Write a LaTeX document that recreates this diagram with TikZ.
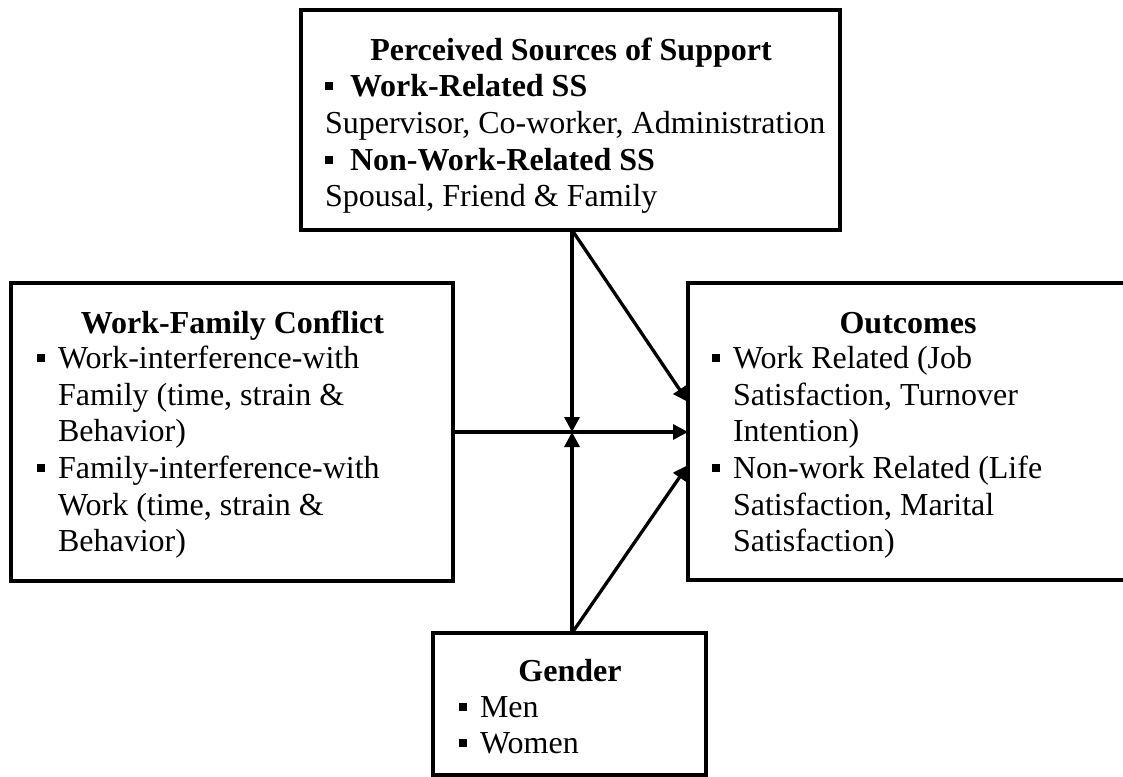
\documentclass[tikz,border=0pt]{standalone}
\usepackage{fontspec}
\setmainfont{Liberation Serif}
\usetikzlibrary{arrows.meta}
\newcommand\bul[1][21pt]{\makebox[#1][l]{\raisebox{6.5pt}{\rule{8pt}{8pt}}}}
\newcommand\ind{\hspace*{21pt}}
\begin{document}
\begin{tikzpicture}[x=1pt,y=-1pt,
  box/.style={draw, line width=4pt, inner sep=0pt, outer sep=0pt, anchor=north west, fill=white},
  txt/.style={inner sep=0pt, outer sep=0pt, font=\fontsize{32}{36.7}\selectfont},
  arr/.style={line width=3.3pt, -{Triangle[length=15pt,width=15pt]}}]
\useasboundingbox (0,0) rectangle (1123,776);
\clip (0,0) rectangle (1123,776);
\fill[white] (0,0) rectangle (1123,776);
% boxes
\node[box, minimum width=539pt, minimum height=220pt] (pss) at (301,10) {};
\node[box, minimum width=442pt, minimum height=298pt] (wfc) at (11,283) {};
\node[box, minimum width=440pt, minimum height=297pt] (out) at (688,283) {};
\node[box, minimum width=273pt, minimum height=142pt] (gen) at (433,633) {};
% texts
\node[txt, anchor=base] (pssT) at (571,60) {\textbf{Perceived Sources of Support}};
\node[txt, anchor=base west] (pssL) at (325,96.7) {\begin{tabular}[t]{@{}l@{}}
\bul[25pt]\textbf{Work-Related SS}\\
Supervisor, Co-worker, Administration\\
\bul[25pt]\textbf{Non-Work-Related SS}\\
Spousal, Friend \& Family\end{tabular}};
\node[txt, anchor=base] (wfcT) at (232.5,333) {\textbf{Work-Family Conflict}};
\node[txt, anchor=base west] (wfcL) at (37,368.3) {\begin{tabular}[t]{@{}l@{}}
\bul Work-interference-with\\
\ind Family (time, strain \&\\
\ind Behavior)\\
\bul Family-interference-with\\
\ind Work (time, strain \&\\
\ind Behavior)\end{tabular}};
\node[txt, anchor=base] (outT) at (908,333) {\textbf{Outcomes}};
\node[txt, anchor=base west] (outL) at (712,368.3) {\begin{tabular}[t]{@{}l@{}}
\bul Work Related (Job\\
\ind Satisfaction, Turnover\\
\ind Intention)\\
\bul Non-work Related (Life\\
\ind Satisfaction, Marital\\
\ind Satisfaction)\end{tabular}};
\node[txt, anchor=base] (genT) at (570,681) {\textbf{Gender}};
\node[txt, anchor=base west] (genL) at (459,717) {\begin{tabular}[t]{@{}l@{}}
\bul Men\\
\bul Women\end{tabular}};
% connectors
\coordinate (junc) at (572,432);
\coordinate (tipA) at (688,402);
\coordinate (tipB) at (688,465);
\draw[arr] (wfc.east |- junc) -- (out.west |- junc);
\draw[arr] (pss.south -| junc) -- (junc);
\draw[arr] (gen.north -| junc) -- (junc);
\draw[arr] (pss.south -| junc) -- (tipA);
\draw[arr] (gen.north -| junc) -- (tipB);
\end{tikzpicture}
\end{document}
